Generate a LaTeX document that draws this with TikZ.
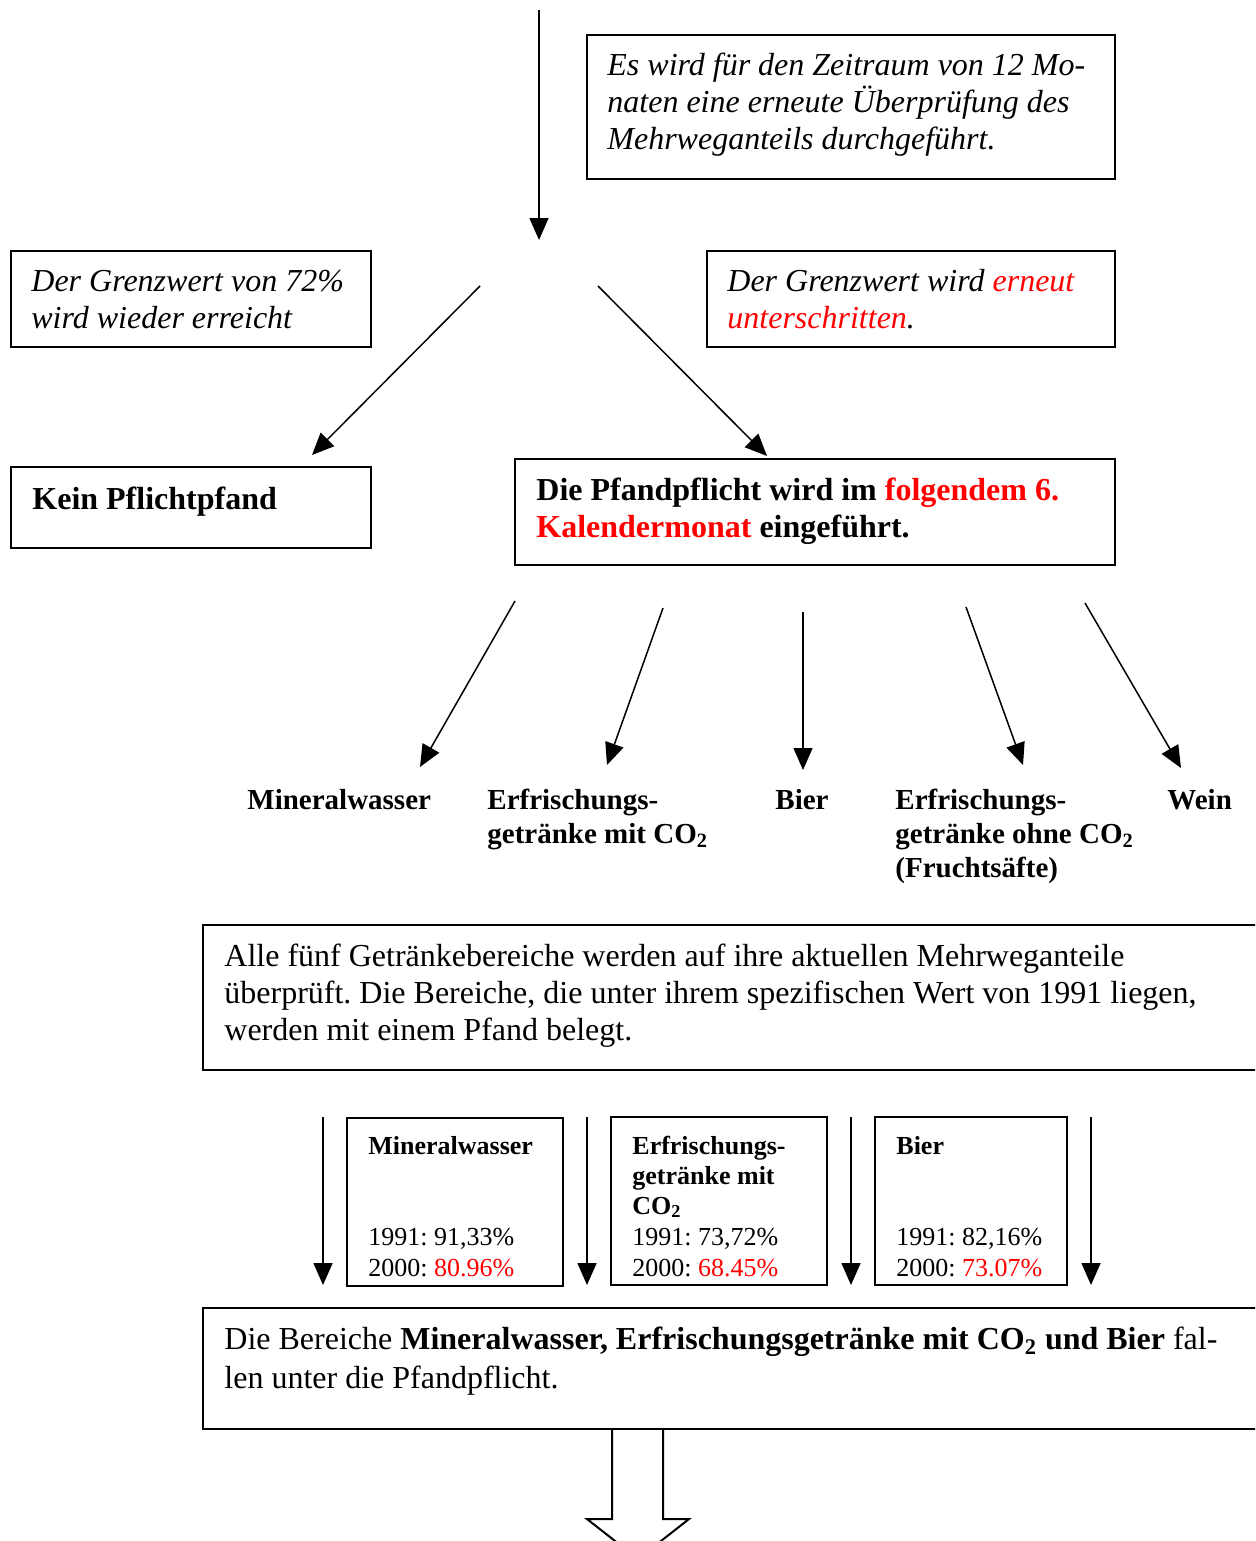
\documentclass[tikz,border=0pt]{standalone}
\usepackage{fontspec}
\setmainfont{Liberation Serif}
\usetikzlibrary{arrows.meta,fit}
\definecolor{tred}{RGB}{255,0,0}
\frenchspacing
\begin{document}
\begin{tikzpicture}[x=0.5pt,y=-0.5pt,
  box/.style={draw, line width=1pt, inner sep=0pt},
  big/.style={font=\fontsize{16}{18.5}\selectfont, anchor=base west, inner sep=0pt, yshift=-1.25pt},
  lab/.style={font=\fontsize{14.5}{17}\selectfont\bfseries, anchor=base west, inner sep=0pt, yshift=-1pt},
  sm/.style={font=\fontsize{13}{15}\selectfont, anchor=base west, inner sep=0pt, yshift=-1pt},
  arr/.style={line width=0.75pt, -{Triangle[length=11pt,width=9.5pt]}},
]
\useasboundingbox (0,0) rectangle (1255,1541);
\clip (0,0) rectangle (1255,1541);
\fill[white] (0,0) rectangle (1255,1541);

% coordinates for free arrow ends
\coordinate (a0s) at (539,10);   \coordinate (a0e) at (539,240);
\coordinate (aLs) at (480,286);  \coordinate (aLe) at (312,455);
\coordinate (aRs) at (598,286);  \coordinate (aRe) at (767,456);
\coordinate (f1s) at (515,601);  \coordinate (f1e) at (420,767);
\coordinate (f2s) at (663,608);  \coordinate (f2e) at (607,765);
\coordinate (f3s) at (803,612);  \coordinate (f3e) at (803,770);
\coordinate (f4s) at (966,607);  \coordinate (f4e) at (1023,765);
\coordinate (f5s) at (1085,603); \coordinate (f5e) at (1181,768);
\coordinate (s1s) at (323,1117); \coordinate (s1e) at (323,1285);
\coordinate (s2s) at (587,1117); \coordinate (s2e) at (587,1285);
\coordinate (s3s) at (851,1117); \coordinate (s3e) at (851,1285);
\coordinate (s4s) at (1091,1117);\coordinate (s4e) at (1091,1285);

% boxes
\node[box, fit={(587,35) (1115,179)}] (b1) {};
\node[box, fit={(11,251) (371,347)}] (b2) {};
\node[box, fit={(707,251) (1115,347)}] (b3) {};
\node[box, fit={(11,467) (371,548)}] (b4) {};
\node[box, fit={(515,459) (1115,565)}] (b5) {};
\node[box, fit={(203,925) (1275,1070)}] (b6) {};
\node[box, fit={(347,1118) (563,1286)}] (ba) {};
\node[box, fit={(611,1117) (827,1285)}] (bb) {};
\node[box, fit={(875,1117) (1067,1285)}] (bc) {};
\node[box, fit={(203,1308) (1275,1429)}] (b7) {};

% texts
\node[big] (t1a) at (607,73)  {\itshape Es wird für den Zeitraum von 12 Mo-};
\node[big] (t1b) at (607,110) {\itshape naten eine erneute Überprüfung des};
\node[big] (t1c) at (607,147) {\itshape Mehrweganteils durchgeführt.};

\node[big] (t2a) at (31,289) {\itshape Der Grenzwert von 72\%};
\node[big] (t2b) at (31,326) {\itshape wird wieder erreicht};

\node[big] (t3a) at (727,289) {\itshape Der Grenzwert wird \textcolor{tred}{erneut}};
\node[big] (t3b) at (727,326) {\itshape \textcolor{tred}{unterschritten}.};

\node[big] (t4) at (32,507) {\bfseries Kein Pflichtpfand};

\node[big] (t5a) at (536,498) {\bfseries Die Pfandpflicht wird im \textcolor{tred}{folgendem 6.}};
\node[big] (t5b) at (536,535) {\bfseries \textcolor{tred}{Kalendermonat} eingeführt.};

\node[lab] (l1)  at (247,807) {Mineralwasser};
\node[lab] (l2a) at (487,807) {Erfrischungs-};
\node[lab] (l2b) at (487,841) {getränke mit CO\textsubscript{2}};
\node[lab] (l3)  at (775,807) {Bier};
\node[lab] (l4a) at (895,807) {Erfrischungs-};
\node[lab] (l4b) at (895,841) {getränke ohne CO\textsubscript{2}};
\node[lab] (l4c) at (895,875) {(Fruchtsäfte)};
\node[lab] (l5)  at (1167,807) {Wein};

\node[big] (t6a) at (224,964)  {Alle fünf Getränkebereiche werden auf ihre aktuellen Mehrweganteile};
\node[big] (t6b) at (224,1001) {überprüft. Die Bereiche, die unter ihrem spezifischen Wert von 1991 liegen,};
\node[big] (t6c) at (224,1038) {werden mit einem Pfand belegt.};

\node[sm] (ma) at (368,1152) {\bfseries Mineralwasser};
\node[sm] (mb) at (368,1243) {1991: 91,33\%};
\node[sm] (mc) at (368,1274) {2000: \textcolor{tred}{80.96\%}};

\node[sm] (ea) at (632,1152) {\bfseries Erfrischungs-};
\node[sm] (eb) at (632,1182) {\bfseries getränke mit};
\node[sm] (ec) at (632,1212) {\bfseries CO\textsubscript{2}};
\node[sm] (ed) at (632,1243) {1991: 73,72\%};
\node[sm] (ee) at (632,1274) {2000: \textcolor{tred}{68.45\%}};

\node[sm] (ra) at (896,1152) {\bfseries Bier};
\node[sm] (rb) at (896,1243) {1991: 82,16\%};
\node[sm] (rc) at (896,1274) {2000: \textcolor{tred}{73.07\%}};

\node[big] (t7a) at (224,1347) {Die Bereiche \textbf{Mineralwasser, Erfrischungsgetränke mit CO\textsubscript{2} und Bier} fal-};
\node[big] (t7b) at (224,1386) {len unter die Pfandpflicht.};

% arrows
\draw[arr] (a0s) -- (a0e);
\draw[arr] (aLs) -- (aLe);
\draw[arr] (aRs) -- (aRe);
\draw[arr] (f1s) -- (f1e);
\draw[arr] (f2s) -- (f2e);
\draw[arr] (f3s) -- (f3e);
\draw[arr] (f4s) -- (f4e);
\draw[arr] (f5s) -- (f5e);
\draw[arr] (s1s) -- (s1e);
\draw[arr] (s2s) -- (s2e);
\draw[arr] (s3s) -- (s3e);
\draw[arr] (s4s) -- (s4e);

% block arrow
\coordinate (bk1) at (612,1429);
\coordinate (bk2) at (663,1429);
\draw[line width=1pt, line join=miter] (bk1) -- (612,1519) -- (587,1519) -- (638,1559) -- (689,1519) -- (663,1519) -- (bk2);
\end{tikzpicture}
\end{document}
